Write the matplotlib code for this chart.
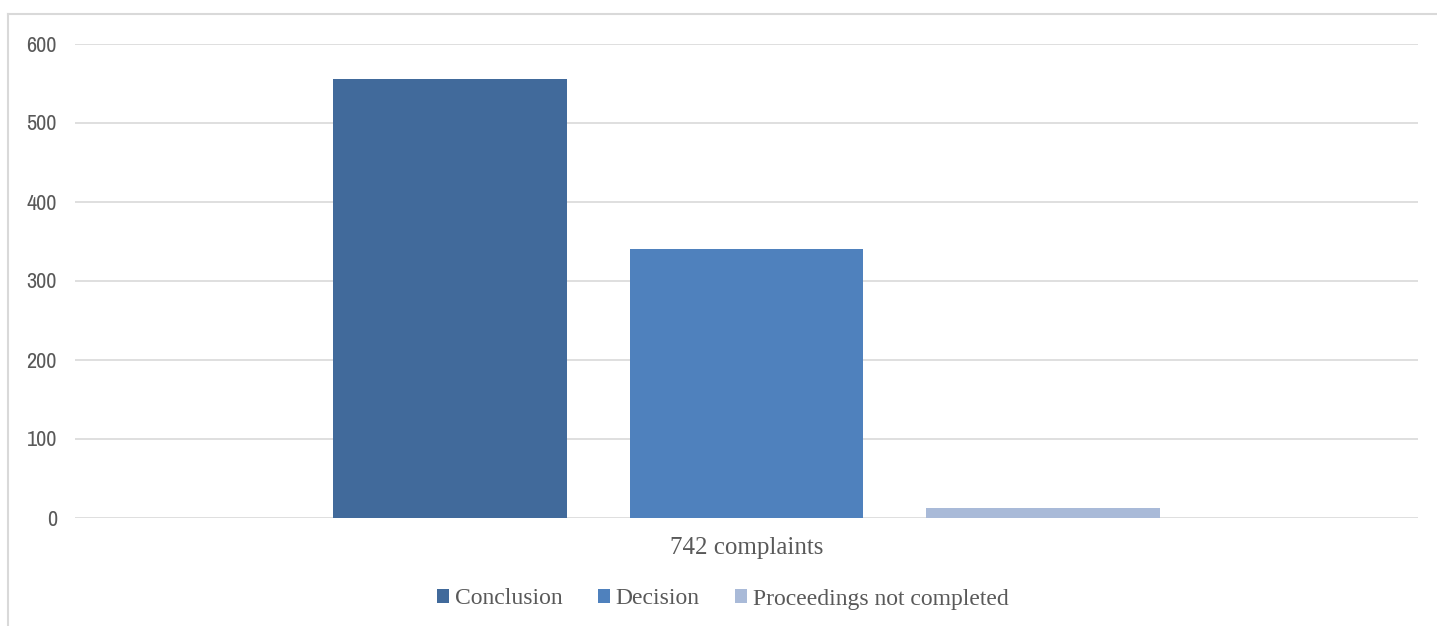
import matplotlib
matplotlib.use("Agg")
import matplotlib.pyplot as plt
from matplotlib.lines import Line2D
from matplotlib.patches import Patch
from matplotlib import font_manager

category = "742 complaints"
series = ["Conclusion", "Decision", "Proceedings not completed"]
values = [555, 340, 12]
colors = ["#416A9B", "#4F81BD", "#A9BAD8"]
y_ticks = [0, 100, 200, 300, 400, 500, 600]

# pick a narrow face for the value axis if one is installed
names = sorted({f.name for f in font_manager.fontManager.ttflist})
narrow_candidates = [n for n in names if "Narrow" in n or "Condensed" in n]
narrow = narrow_candidates[0] if narrow_candidates else "DejaVu Sans"
serif = "Liberation Serif"

fig = plt.figure(figsize=(14.37, 6.26), dpi=100)
ax = fig.add_axes([75 / 1437, 108.5 / 626, 1343 / 1437, 474 / 626])

bar_width = 0.1742
step = 0.2211
offsets = [(i - 1) * step for i in range(len(series))]
for off, val, col, name in zip(offsets, values, colors, series):
    ax.bar(off, val, width=bar_width, color=col, label=name, zorder=3)

ax.set_xlim(-0.5, 0.5)
ax.set_ylim(0, 600)
ax.set_yticks(y_ticks)
ax.set_yticklabels([str(t) for t in y_ticks], fontfamily=narrow, fontsize=16,
                   color="#595959", fontstretch="condensed")
ax.set_xticks([0])
ax.set_xticklabels([category], fontfamily=serif, fontsize=18, color="#595959")
ax.tick_params(axis="both", length=0)
ax.tick_params(axis="y", pad=13)
ax.tick_params(axis="x", pad=14)
ax.grid(axis="y", color="#D9D9D9", linewidth=1.2, zorder=0)
for s in ax.spines.values():
    s.set_visible(False)

handles = [Patch(facecolor=c, edgecolor="none") for c in colors]
leg = fig.legend(handles, series, loc="center", bbox_to_anchor=(0.503, 1 - 599 / 626),
                 ncol=3, frameon=False, handlelength=0.5, handleheight=0.5,
                 handletextpad=0.25, columnspacing=1.5,
                 prop={"family": serif, "size": 17})
for t in leg.get_texts():
    t.set_color("#595959")

# outer chart frame
fig.add_artist(Line2D([8 / 1437, 1.0], [1 - 14 / 626, 1 - 14 / 626],
                      transform=fig.transFigure, color="#D9D9D9", linewidth=1.5))
fig.add_artist(Line2D([8 / 1437, 8 / 1437], [0, 1 - 14 / 626],
                      transform=fig.transFigure, color="#D9D9D9", linewidth=1.5))

fig.savefig("out.png", dpi=100, facecolor="white")
